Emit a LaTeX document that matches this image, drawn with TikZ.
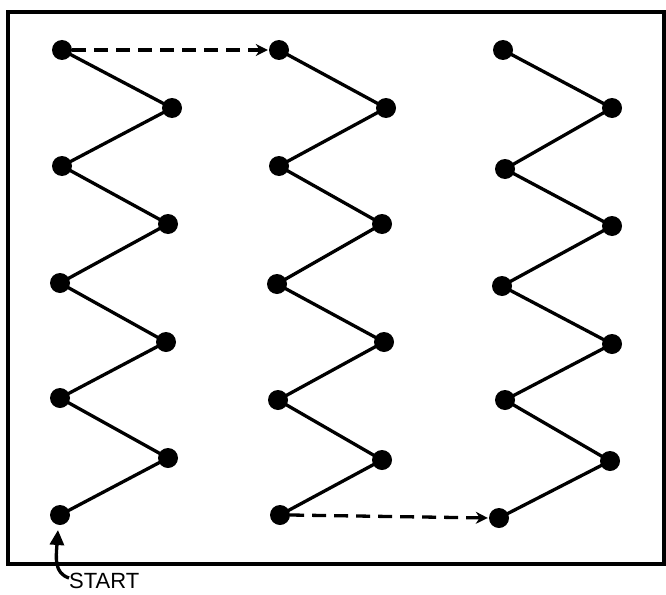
\documentclass[tikz,border=0pt]{standalone}
\usepackage{fontspec}
\setmainfont{Liberation Sans}
\usetikzlibrary{arrows.meta}
\begin{document}
\begin{tikzpicture}[x=1pt,y=-1pt,
  dot/.style={circle,fill=black,inner sep=0pt,minimum size=20pt},
  zig/.style={line width=3.3pt,line join=round},
  hop/.style={line width=3.3pt,dash pattern=on 14pt off 8pt,-{Stealth[length=12pt,width=12pt]},shorten >=1pt},
  frame/.style={line width=3.6pt},
  label/.style={font=\fontsize{22}{25}\selectfont,inner sep=0pt,anchor=base west}]
\useasboundingbox (0,0) rectangle (666,594);
\draw[frame] (8,12) rectangle (664,564);
% left column
\foreach \n/\x/\y in {1/62/50,2/172/108,3/62/166,4/168/224,5/60/283,6/166/342,7/60/398,8/168/458,9/60/515}
  \node[dot] (a\n) at (\x,\y) {};
% middle column
\foreach \n/\x/\y in {1/279/50,2/386/108,3/279/166,4/382/224,5/277/284,6/384/342,7/278/400,8/382/460,9/280/515}
  \node[dot] (b\n) at (\x,\y) {};
% right column
\foreach \n/\x/\y in {1/503/50,2/612/108,3/505/169,4/612/226,5/502/286,6/612/344,7/505/400,8/610/461,9/499/518}
  \node[dot] (c\n) at (\x,\y) {};
\foreach \c in {a,b,c}{
  \draw[zig] (\c1.center) -- (\c2.center) -- (\c3.center) -- (\c4.center) -- (\c5.center)
     -- (\c6.center) -- (\c7.center) -- (\c8.center) -- (\c9.center);
}
\draw[hop] (a1.east) -- (b1.west);
\draw[hop] (b9.east) -- (c9.west);
\node[label] (start) at (69,588) {START};
\coordinate (tip) at (58,530);
\draw[line width=3.3pt,-{Triangle[length=15pt,width=14pt]}] (start.west |- 0,578) .. controls (54,573) and (56,558) .. (tip);
\end{tikzpicture}
\end{document}
